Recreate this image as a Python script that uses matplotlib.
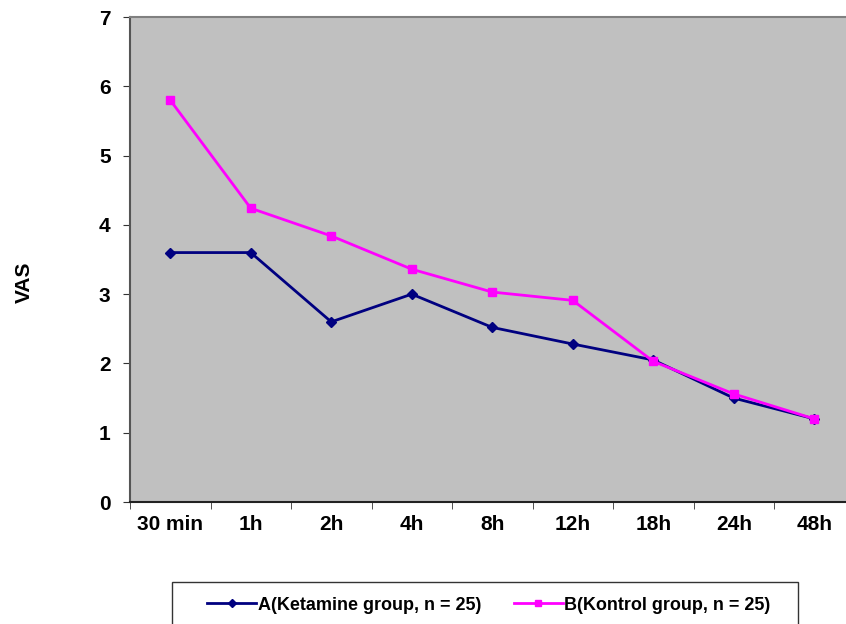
import numpy as np
import matplotlib.pyplot as plt
from matplotlib.patches import Rectangle

plt.rcParams['font.family'] = ['Liberation Sans', 'DejaVu Sans']

times = ['30 min', '1h', '2h', '4h', '8h', '12h', '18h', '24h', '48h']
ketamine = [3.6, 3.6, 2.6, 3.0, 2.52, 2.28, 2.05, 1.5, 1.2]
kontrol = [5.8, 4.24, 3.84, 3.36, 3.03, 2.91, 2.03, 1.56, 1.2]

W, H = 846, 624
fig = plt.figure(figsize=(W / 100, H / 100), dpi=100)
# plot area runs past the right edge as in the reference
ax = fig.add_axes([130 / W, 1 - 502 / H, 724.5 / W, 485 / H])
ax.set_facecolor('#C0C0C0')

x = np.arange(len(times))
l1, = ax.plot(x, ketamine, color='#000080', lw=2, marker='D', ms=5,
              label='A(Ketamine group, n = 25)')
l2, = ax.plot(x, kontrol, color='#FF00FF', lw=2, marker='s', ms=6,
              label='B(Kontrol group, n = 25)')

ax.set_xlim(-0.5, len(times) - 0.5)
ax.set_ylim(0, 7)
ax.set_yticks(range(8))
ax.set_xticks(x)
ax.set_xticklabels(times)
ax.set_xticks(np.arange(-0.5, len(times)), minor=True)
ax.tick_params(axis='x', which='major', length=0, pad=9)
ax.tick_params(axis='x', which='minor', length=5, direction='out', color='#333333')
ax.tick_params(axis='y', length=5, direction='out', color='#333333', pad=9)
for lab in ax.get_xticklabels() + ax.get_yticklabels():
    lab.set_fontsize(15)
    lab.set_fontweight('bold')

ax.spines['left'].set_color('#555555')
ax.spines['bottom'].set_color('#222222')
ax.spines['top'].set_color('#808080')
for s in ax.spines.values():
    s.set_linewidth(1.5)

fig.text(24 / W, 1 - 282 / H, 'VAS', rotation=90, fontsize=15, fontweight='bold',
         ha='center', va='center')

# legend frame (runs off the bottom edge)
fig.patches.append(Rectangle((172 / W, 1 - 640 / H), 626 / W, 58 / H,
                             transform=fig.transFigure, facecolor='white',
                             edgecolor='#333333', lw=1.0))
leg = fig.legend(handles=[l1, l2], loc='center',
                 bbox_to_anchor=(489 / W, 1 - 605 / H),
                 ncol=2, frameon=False,
                 prop={'weight': 'bold', 'size': 13}, handlelength=2.7,
                 handletextpad=0.1, columnspacing=1.8, borderpad=0,
                 markerscale=0.8)

fig.savefig('out.png', dpi=100)
